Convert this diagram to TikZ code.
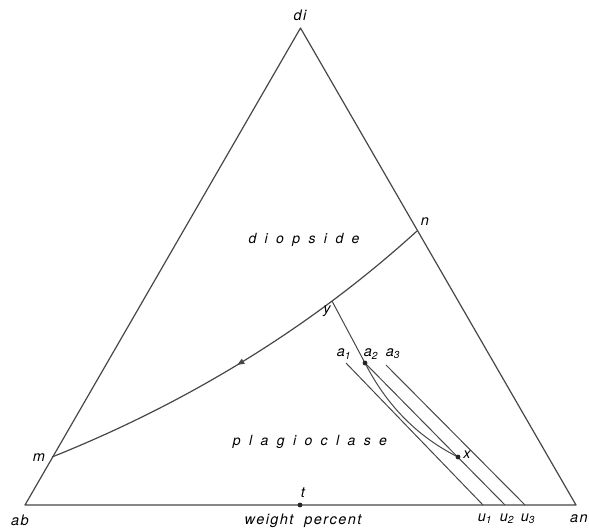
\documentclass[tikz,border=0pt]{standalone}
\usepackage{fontspec}
\setmainfont{TeX Gyre Heros}
\usetikzlibrary{arrows.meta,decorations.markings}

\begin{document}
\begin{tikzpicture}[x=1pt, y=-1pt,
  edge/.style={line width=1.2pt, draw=black!72, line join=round},
  tie/.style={line width=1pt, draw=black!72},
  lbl/.style={font=\fontsize{14.5}{16}\selectfont\itshape\addfontfeature{LetterSpace=10}, inner sep=0pt},
  field/.style={font=\fontsize{14}{16}\selectfont\itshape\addfontfeature{LetterSpace=60}, inner sep=0pt},
  flow/.style={postaction={decorate}, decoration={markings,
      mark=at position 0.52 with {\arrow{Triangle[length=7pt,width=5.5pt]}}}}
]
\useasboundingbox (0,0) rectangle (589,528);

% corners of the triangle
\coordinate (ab) at (25,505);
\coordinate (an) at (576,505);
\coordinate (di) at (300.5,28);

% points on the boundaries
\coordinate (m) at (52,457);
\coordinate (n) at (417,231);
\coordinate (y) at (332,301);
\coordinate (t) at (300,505);
\coordinate (a1) at (346,363);
\coordinate (a2) at (365,363);
\coordinate (a3) at (386,365);
\coordinate (x) at (458,457);
\coordinate (u1) at (483,505);
\coordinate (u2) at (505,505);
\coordinate (u3) at (525,505);

\draw[edge] (ab) -- (an) -- (di) -- cycle;

% cotectic line
\draw[edge, flow] (n) .. controls (307,331) and (182,405) .. (m);

% crystallization path
\draw[tie] (y) -- (a2);
\draw[tie] (a2) .. controls (388,408) and (420,438) .. (x);
\draw[tie] (a1) -- (u1);
\draw[tie] (a2) -- (u2);
\draw[tie] (a3) -- (u3);

\fill[black!85] (a2) circle (2.4pt);
\fill[black!85] (x) circle (2.4pt);
\fill[black!85] (t) circle (2.4pt);

% labels
\node[lbl] (ldi) at (300,15) {di};
\node[lbl] (lab) at (20,520) {ab};
\node[lbl] (lan) at (579,519) {an};
\node[lbl] (lm) at (39,458) {m};
\node[lbl] (ln) at (425,222) {n};
\node[lbl] (ly) at (327,311) {y};
\node[lbl] (lt) at (303,493) {t};
\node[lbl] (lx) at (467,455) {x};
\node[lbl] (la1) at (344,354) {a\textsubscript{1}};
\node[lbl] (la2) at (371,354) {a\textsubscript{2}};
\node[lbl] (la3) at (393,354) {a\textsubscript{3}};
\node[lbl] (lu1) at (485,519) {u\textsubscript{1}};
\node[lbl] (lu2) at (507,519) {u\textsubscript{2}};
\node[lbl] (lu3) at (528,519) {u\textsubscript{3}};
\node[lbl] (lwt) at (303,521) {weight\ \ percent};

\node[field] (diop) at (304,240) {diopside};
\node[field] (plag) at (310,442) {plagioclase};
\end{tikzpicture}
\end{document}
